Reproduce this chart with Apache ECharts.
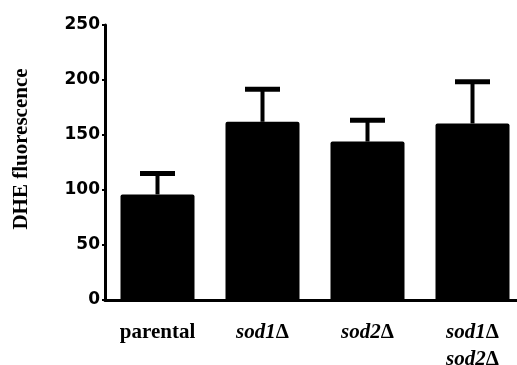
<!DOCTYPE html>
<html>
<head>
<meta charset="utf-8">
<script src="https://cdn.jsdelivr.net/npm/echarts@6/dist/echarts.min.js"></script>
<style>
html,body{margin:0;padding:0;background:#fff;}
#chart{width:517px;height:365px;}
</style>
</head>
<body>
<div id="chart"></div>
<script>
const categories = ['parental', 'sod1Δ', 'sod2Δ', 'sod1Δ\nsod2Δ'];
const means = [96, 162, 144, 160.5];
const errors = [19, 29.5, 19.5, 38];
const yTicks = [0, 50, 100, 150, 200, 250];
const yTitle = 'DHE fluorescence';

function fmtCat(v) {
  return v.split('\n').map(function (line) {
    const m = line.match(/^(sod\d)(Δ)$/);
    if (m) return '{i|' + m[1] + '}{b|' + m[2] + '}';
    return '{b|' + line + '}';
  }).join('\n');
}

const chart = echarts.init(document.getElementById('chart'), null, {renderer: 'canvas'});
chart.setOption({
  animation: false,
  backgroundColor: '#fff',
  grid: {left: 105, right: -8, top: 25, bottom: 65, containLabel: false, outerBoundsMode: 'none'},
  xAxis: {
    type: 'category',
    data: categories,
    axisLine: {show: true, lineStyle: {color: '#000', width: 3}},
    axisTick: {show: false},
    axisLabel: {
      margin: 19,
      interval: 0,
      formatter: fmtCat,
      rich: {
        b: {fontFamily: 'Liberation Serif', fontWeight: 'bold', fontSize: 21, color: '#000', lineHeight: 27},
        i: {fontFamily: 'Liberation Serif', fontWeight: 'bold', fontStyle: 'italic', fontSize: 21, color: '#000', lineHeight: 27}
      }
    }
  },
  yAxis: {
    type: 'value',
    min: yTicks[0],
    max: yTicks[yTicks.length - 1],
    interval: 50,
    splitLine: {show: false},
    axisLine: {show: true, lineStyle: {color: '#000', width: 3}},
    axisTick: {show: true, length: 3, lineStyle: {color: '#000', width: 2}},
    axisLabel: {
      margin: 5,
      fontFamily: 'DejaVu Sans',
      fontWeight: 'bold',
      fontSize: 17,
      color: '#000'
    }
  },
  graphic: [{
    type: 'text',
    x: 22,
    y: 149,
    rotation: Math.PI / 2,
    style: {
      text: yTitle,
      fontFamily: 'Liberation Serif',
      fontWeight: 'bold',
      fontSize: 21,
      fill: '#000',
      align: 'center',
      verticalAlign: 'middle'
    }
  }],
  series: [{
    type: 'bar',
    data: means,
    barWidth: 74,
    itemStyle: {color: '#000', borderRadius: [2, 2, 0, 0]},
    z: 2
  }, {
    type: 'custom',
    z: 3,
    data: categories.map(function (c, i) { return [i, means[i], errors[i]]; }),
    renderItem: function (params, api) {
      const base = api.coord([api.value(0), api.value(1)]);
      const top = api.coord([api.value(0), api.value(1) + api.value(2)]);
      const half = 17.5;
      return {
        type: 'group',
        children: [{
          type: 'line',
          shape: {x1: base[0], y1: base[1], x2: top[0], y2: top[1]},
          style: {stroke: '#000', lineWidth: 4}
        }, {
          type: 'line',
          shape: {x1: top[0] - half, y1: top[1], x2: top[0] + half, y2: top[1]},
          style: {stroke: '#000', lineWidth: 5}
        }]
      };
    }
  }]
});
</script>
</body>
</html>
